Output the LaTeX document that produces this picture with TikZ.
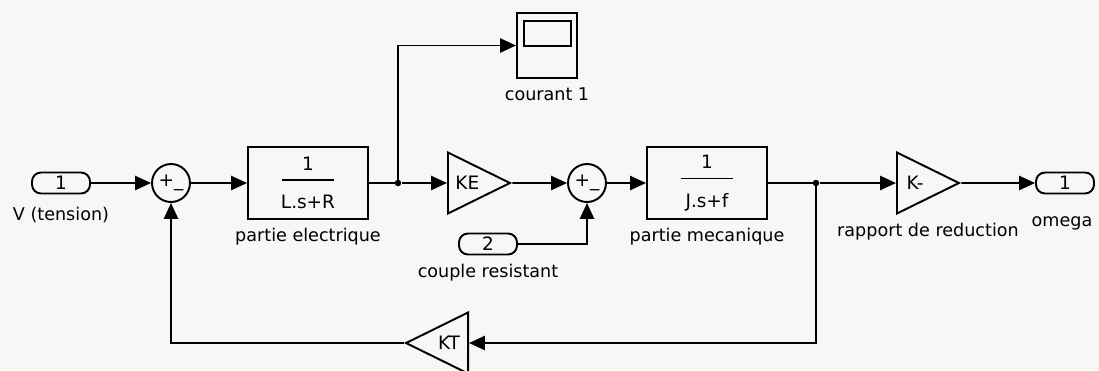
\documentclass[tikz,border=0pt]{standalone}
\usepackage{fontspec}
\setmainfont{DejaVu Sans}
\usetikzlibrary{positioning,shapes.geometric,arrows.meta}
\begin{document}
\begin{tikzpicture}[x=0.02cm, y=-0.02cm, font=\fontsize{10}{12}\selectfont, line width=1.1pt,
  port/.style={draw, rounded corners=0.18cm, minimum width=1.16cm, minimum height=0.42cm, inner sep=0, font=\fontsize{10.5}{12}\selectfont},
  sumc/.style={draw, circle, minimum size=0.76cm, inner sep=0, font=\fontsize{10.5}{12}\selectfont},
  tfbox/.style={draw, minimum width=2.4cm, minimum height=1.44cm, align=center, inner sep=0, font=\fontsize{10.5}{12}\selectfont},
  gain/.style={draw, isosceles triangle, isosceles triangle stretches, minimum width=1.22cm, minimum height=1.24cm, inner sep=0, font=\fontsize{10.5}{12}\selectfont},
  dot/.style={circle, fill, inner sep=0, minimum size=0.13cm},
  lbl/.style={inner sep=0, anchor=base},
  sig/.style={-{Triangle[length=9pt,width=8pt]}}]
  \fill[black!3] (0,0) rectangle (1099,370);
  \useasboundingbox (0,0) rectangle (1099,370);
  % blocks
  \node[port] (in1) at (61,183) {1};
  \node[sumc] (s1) at (171,183) {+\_};
  \node[tfbox] (b1) at (308,183) {1\\[-6pt]\rule{30pt}{0.9pt}\\[4pt]L.s+R};
  \node[dot] (br1) at (398,183) {};
  \node[draw, minimum width=1.2cm, minimum height=1.3cm, inner sep=0] (scp) at (547,45.5) {};
  \draw ([shift={(8,9)}]scp.north west) rectangle ([shift={(-7,34)}]scp.north east);
  \node[gain, anchor=lower side] (ke) at (447,183) {KE};
  \node[sumc] (s2) at (587,183) {+\_};
  \node[port] (in2) at (488,244) {2};
  \node[tfbox] (b2) at (707,183) {1\\[-6pt]\rule{30pt}{0.9pt}\\[4pt]J.s+f};
  \node[dot] (br2) at (816,183) {};
  \node[gain, anchor=lower side] (k) at (896,183) {K-};
  \node[port] (out) at (1065,183) {1};
  \node[gain, shape border rotate=180, anchor=lower side] (kt) at (469,343) {KT};
  % labels
  \node[lbl] (in1l) at (61,220) {V (tension)};
  \node[lbl] (b1l) at (308,241) {partie electrique};
  \node[lbl] (scpl) at (547,100) {courant 1};
  \node[lbl] (in2l) at (488,277) {couple resistant};
  \node[lbl] (b2l) at (707,241) {partie mecanique};
  \node[lbl] (kl) at (928,236) {rapport de reduction};
  \node[lbl] (outl) at (1062,226) {omega};
  % signals
  \foreach \a/\b in {in1/s1, s1/b1, br1/ke, ke/s2, s2/b2, br2/k, k/out}
    \draw[sig] (\a) -- (\b);
  \draw (b1) -- (br1.center);
  \draw (b2) -- (br2.center);
  \draw[sig] (br1.center) |- (scp);
  \draw[sig] (in2) -| (s2);
  \draw[sig] (br2.center) |- (kt.lower side);
  \draw[sig] (kt.apex) -| (s1);
\end{tikzpicture}
\end{document}
